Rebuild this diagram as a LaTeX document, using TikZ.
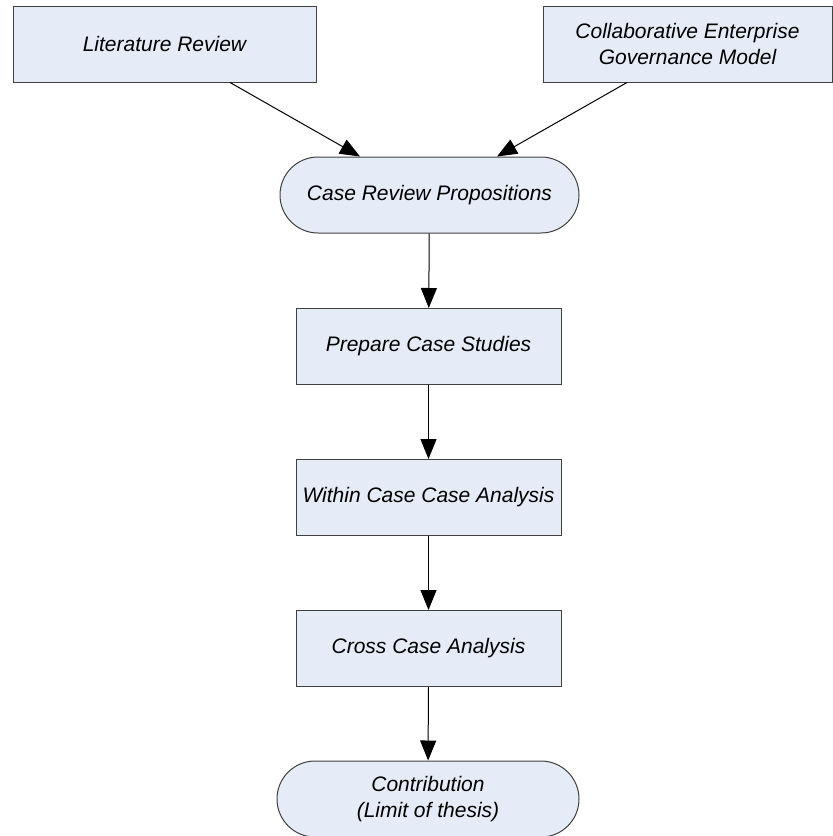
\documentclass[tikz,border=0pt]{standalone}
\usepackage{fontspec}
\setmainfont{Liberation Sans}
\usetikzlibrary{arrows.meta}
\definecolor{boxfill}{RGB}{230,236,247}
\definecolor{boxline}{RGB}{64,64,64}

\begin{document}
\begin{tikzpicture}[x=1pt, y=-1pt,
  stepbox/.style={draw=boxline, fill=boxfill, line width=1pt, minimum height=76pt,
    inner sep=0pt, align=center, font=\fontsize{21}{26.5}\selectfont\itshape},
  endbox/.style={stepbox, rounded corners=38pt},
  flow/.style={line width=1pt, -{Triangle[length=20pt, width=16pt]}}]
  \useasboundingbox (0,0) rectangle (833,836);

  % inputs
  \node[stepbox, minimum width=303pt] (lit) at (164.5, 44) {Literature Review};
  \node[stepbox, minimum width=289pt] (cegm) at (687.5, 44) {Collaborative Enterprise\\Governance Model};

  % main flow
  \node[endbox, minimum width=299pt] (props) at (429.5, 195) {Case Review Propositions};
  \node[stepbox, minimum width=265pt] (prep) at (428.5, 346.5) {Prepare Case Studies};
  \node[stepbox, minimum width=265pt] (within) at (428.5, 497.5) {Within Case Case Analysis};
  \node[stepbox, minimum width=265pt] (cross) at (428.5, 648.5) {Cross Case Analysis};
  \node[endbox, minimum width=302pt] (contrib) at (428, 799) {Contribution\\(Limit of thesis)};

  \draw[flow] ([xshift=65.5pt]lit.south) -- ([xshift=-69.5pt]props.north);
  \draw[flow] ([xshift=-60.5pt]cegm.south) -- ([xshift=67.5pt]props.north);
  \draw[flow] (props) -- (prep);
  \draw[flow] (prep) -- (within);
  \draw[flow] (within) -- (cross);
  \draw[flow] (cross) -- (contrib);
\end{tikzpicture}
\end{document}
